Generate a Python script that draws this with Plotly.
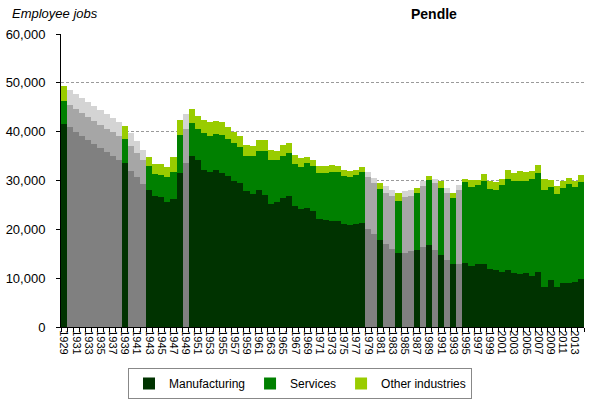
import plotly.graph_objects as go

years = list(range(1929, 2015))

manufacturing = [41.6, 40.9, 40.0, 39.1, 38.3, 37.5, 36.7, 35.9, 35.1, 34.2,
                 33.5, 32.0, 30.7, 29.3, 28.0, 26.9, 26.7, 25.6, 26.3, 31.6,
                 33.5, 35.1, 34.1, 32.2, 31.8, 32.2, 31.6, 30.9, 29.8, 29.5,
                 27.8, 27.3, 28.0, 27.1, 25.2, 25.6, 26.5, 26.8, 24.7, 24.1,
                 24.4, 23.7, 22.2, 22.0, 21.8, 21.8, 21.0, 20.8, 21.0, 21.3,
                 20.1, 19.0, 17.8, 16.9, 15.9, 15.2, 15.2, 15.5, 15.8, 16.3,
                 16.7, 15.7, 14.7, 13.7, 12.9, 12.9, 13.1, 12.5, 12.9, 12.9,
                 11.8, 11.6, 11.3, 11.6, 11.0, 10.8, 11.0, 10.4, 11.2, 8.2,
                 9.6, 8.2, 9.1, 9.1, 9.3, 9.9]
services = [4.7, 4.6, 4.7, 4.8, 4.8, 4.7, 4.7, 4.7, 4.8, 5.0,
            5.1, 5.1, 5.0, 4.9, 4.9, 4.5, 4.5, 5.2, 5.5, 7.8,
            7.1, 6.7, 6.4, 7.5, 7.4, 7.3, 7.7, 7.5, 7.8, 7.4,
            7.3, 7.8, 8.0, 8.9, 9.0, 8.5, 8.6, 8.9, 8.7, 8.6,
            9.2, 9.2, 9.3, 9.6, 10.0, 9.9, 10.0, 10.0, 10.2, 10.5,
            10.6, 10.5, 10.4, 10.5, 11.0, 10.7, 11.4, 11.4, 11.6, 12.5,
            13.5, 13.8, 13.7, 13.7, 13.5, 15.1, 16.5, 16.1, 16.1, 17.1,
            16.5, 16.4, 17.7, 18.8, 19.0, 19.2, 19.0, 19.9, 20.3, 19.8,
            19.0, 19.1, 19.3, 20.2, 19.3, 19.8]
other = [3.1, 3.1, 3.1, 3.0, 3.0, 3.0, 3.0, 3.0, 2.9, 2.8,
         2.6, 2.6, 2.3, 2.1, 1.9, 1.9, 2.1, 1.9, 3.0, 3.0,
         3.0, 2.9, 2.8, 2.7, 2.7, 2.7, 2.6, 2.5, 2.3, 2.3,
         2.2, 2.0, 2.2, 2.2, 2.1, 2.0, 2.2, 2.0, 1.9, 1.9,
         1.3, 1.3, 1.4, 1.4, 1.4, 1.3, 1.2, 1.1, 1.0, 0.9,
         1.0, 1.0, 1.3, 1.4, 1.1, 1.5, 1.2, 1.1, 1.0, 1.1,
         0.8, 0.9, 1.5, 1.1, 1.1, 1.0, 0.7, 1.5, 1.1, 1.4,
         1.6, 1.7, 1.3, 1.8, 1.6, 2.0, 1.7, 1.7, 1.6, 2.3,
         1.5, 1.5, 1.6, 1.2, 1.3, 1.5]

estimated_years = [1930, 1931, 1932, 1933, 1934, 1935, 1936, 1937, 1938,
                   1940, 1941, 1942, 1949, 1979, 1980, 1982, 1983, 1985,
                   1986, 1988, 1990, 1992, 1994]

tick_years = list(range(1929, 2015, 2))
tick_labels = [str(y) for y in tick_years]

series = [
    ("Manufacturing", manufacturing, "#003300", "#808080"),
    ("Services", services, "#008000", "#A6A6A6"),
    ("Other industries", other, "#99CC00", "#D4D4D4"),
]

fig = go.Figure()
for name, vals, col, grey in series:
    colors = [grey if y in estimated_years else col for y in years]
    fig.add_trace(go.Bar(
        x=years, y=[v * 1000 for v in vals], name=name,
        marker=dict(color=colors, line=dict(width=0)),
    ))

FONT = "Liberation Sans, Arial, sans-serif"

fig.update_layout(
    barmode="stack", bargap=0,
    width=601, height=399,
    margin=dict(l=61, r=17, t=34, b=72, autoexpand=False),
    paper_bgcolor="white", plot_bgcolor="white",
    font=dict(family=FONT, size=12, color="black"),
    showlegend=True,
    legend=dict(orientation="h", xref="container", yref="container",
                x=300 / 601, xanchor="center", y=1 - 368 / 399, yanchor="top",
                bordercolor="#888888", borderwidth=1, font=dict(size=12),
                traceorder="normal", itemwidth=30, tracegroupgap=0),
    annotations=[
        dict(text="<i>Employee jobs</i>", xref="paper", yref="paper",
             x=(10 - 61) / 523, y=1 + (34 - 23) / 293,
             xanchor="left", yanchor="bottom", showarrow=False, font=dict(size=13)),
        dict(text="<b>Pendle</b>", xref="paper", yref="paper",
             x=(433.5 - 61) / 523, y=1 + (34 - 24) / 293,
             xanchor="center", yanchor="bottom", showarrow=False, font=dict(size=14)),
    ],
)

fig.update_xaxes(
    type="linear", range=[1928.5, 2014.5], automargin=False,
    tickmode="array", tickvals=tick_years, ticktext=tick_labels,
    tickangle=90, tickfont=dict(size=11),
    ticks="", showgrid=False, zeroline=False,
    showline=True, linecolor="black", linewidth=1,
    minor=dict(ticks="outside", tick0=1928.5, dtick=1, ticklen=4,
               tickcolor="black", showgrid=False),
)
fig.update_yaxes(
    range=[0, 60000], dtick=10000, tickformat=",", automargin=False,
    ticks="outside", ticklen=4, tickcolor="black", ticklabelstandoff=8,
    showgrid=True, gridcolor="#9A9A9A", griddash="3px,2px", gridwidth=1,
    zeroline=False, showline=True, linecolor="black", linewidth=1,
    tickfont=dict(size=13),
)

fig.write_html("out.html", config={"displayModeBar": False},
               post_script="document.body.style.margin='0';")
